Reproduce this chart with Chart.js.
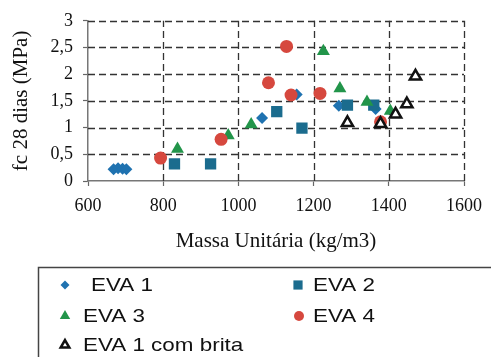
<!DOCTYPE html>
<html>
<head>
<meta charset="utf-8">
<script src="https://cdn.jsdelivr.net/npm/chart.js@4.4.0/dist/chart.umd.min.js"></script>
<style>
  html, body { margin: 0; padding: 0; background: #fff; }
  #wrap { width: 491px; height: 357px; position: relative; }
</style>
</head>
<body>
<div id="wrap"><canvas id="chart"></canvas></div>
<script>
// Massa unitária (kg/m3) x resistência à compressão aos 28 dias (MPa)
const xTicks = [600, 800, 1000, 1200, 1400, 1600];
const yTicks = [0, 0.5, 1, 1.5, 2, 2.5, 3];

const seriesNames = ['EVA 1', 'EVA 2', 'EVA 3', 'EVA 4', 'EVA 1 com brita'];

const eva1X = [668, 680, 692, 702, 1063, 1155, 1267, 1365];
const eva1Y = [0.22, 0.24, 0.23, 0.22, 1.18, 1.62, 1.41, 1.35];

const eva2X = [830, 926, 1102, 1169, 1290, 1360];
const eva2Y = [0.32, 0.32, 1.30, 0.99, 1.42, 1.42];

const eva3X = [838, 973, 1034, 1226, 1270, 1342, 1404];
const eva3Y = [0.60, 0.85, 1.06, 2.43, 1.73, 1.48, 1.31];

const eva4X = [793, 954, 1080, 1128, 1140, 1217, 1378];
const eva4Y = [0.43, 0.78, 1.84, 2.52, 1.61, 1.64, 1.11];

const britaX = [1290, 1378, 1418, 1448, 1471];
const britaY = [1.09, 1.07, 1.25, 1.44, 1.96];

const pairs = (xs, ys) => xs.map((x, i) => ({ x: x, y: ys[i] }));

const serif = '"Liberation Serif", "Times New Roman", serif';

// marker look per series (legend uses smaller radius)
const styles = [
  { pointStyle: 'rectRot',  bg: '#1f72b0', border: '#1f72b0', radius: 6,   legendR: 4.5, bw: 0 },
  { pointStyle: 'rect',     bg: '#1b6c8e', border: '#1b6c8e', radius: 8,   legendR: 6.5, bw: 0 },
  { pointStyle: 'triangle', bg: '#22954a', border: '#22954a', radius: 7.5, legendR: 6,   bw: 0 },
  { pointStyle: 'circle',   bg: '#d6483e', border: '#d6483e', radius: 6.5, legendR: 5,   bw: 0 },
  { pointStyle: 'triangle', bg: '#ffffff', border: '#111111', radius: 6.5, legendR: 5,   bw: 2.5 }
];

const seriesData = [
  pairs(eva1X, eva1Y),
  pairs(eva2X, eva2Y),
  pairs(eva3X, eva3Y),
  pairs(eva4X, eva4Y),
  pairs(britaX, britaY)
];

const datasets = seriesData.map((data, i) => ({
  label: seriesNames[i],
  data: data,
  order: seriesNames.length - i,
  pointStyle: styles[i].pointStyle,
  pointRadius: styles[i].radius,
  pointHoverRadius: styles[i].radius,
  pointBackgroundColor: styles[i].bg,
  pointBorderColor: styles[i].border,
  pointBorderWidth: styles[i].bw,
  showLine: false
}));

// dashed grid lines, drawn from the scales' own tick pixels
const dashedGrid = {
  id: 'dashedGrid',
  beforeDatasetsDraw(chart) {
    const { ctx, chartArea: a, scales } = chart;
    ctx.save();
    ctx.strokeStyle = '#333';
    ctx.lineWidth = 1.3;
    ctx.setLineDash([7, 4]);
    scales.x.ticks.forEach((t, i) => {
      if (i === 0) return;
      const px = Math.round(scales.x.getPixelForValue(t.value)) + 0.5;
      ctx.beginPath();
      ctx.moveTo(px, a.bottom);
      ctx.lineTo(px, a.top);
      ctx.stroke();
    });
    scales.y.ticks.forEach((t, i) => {
      if (i === 0) return;
      const py = Math.round(scales.y.getPixelForValue(t.value)) + 0.5;
      ctx.beginPath();
      ctx.moveTo(a.left, py);
      ctx.lineTo(a.right, py);
      ctx.stroke();
    });
    ctx.restore();
  }
};

// boxed legend in two columns under the plot
const legendSlots = [
  { mx: 65,  tx: 91,  y: 285 },
  { mx: 298, tx: 313, y: 285 },
  { mx: 65,  tx: 83,  y: 316 },
  { mx: 299, tx: 313, y: 316 },
  { mx: 65,  tx: 83,  y: 345 }
];

const boxLegend = {
  id: 'boxLegend',
  afterDraw(chart) {
    const ctx = chart.ctx;
    ctx.save();
    ctx.strokeStyle = '#444';
    ctx.lineWidth = 1.5;
    ctx.strokeRect(38.5, 267.5, 500, 120);

    chart.data.datasets.forEach((ds, i) => {
      const slot = legendSlots[i];
      const st = styles[i];
      ctx.fillStyle = st.bg;
      ctx.strokeStyle = st.border;
      ctx.lineWidth = st.bw;
      Chart.helpers.drawPoint(ctx, {
        pointStyle: st.pointStyle,
        radius: st.legendR,
        rotation: 0,
        borderWidth: st.bw
      }, slot.mx, slot.y);

      ctx.fillStyle = '#111';
      ctx.font = '19px "Liberation Sans", Arial, sans-serif';
      ctx.textBaseline = 'middle';
      ctx.textAlign = 'left';
      ctx.save();
      ctx.translate(slot.tx, slot.y + 1);
      ctx.scale(1.18, 1);
      ctx.fillText(ds.label, 0, 0);
      ctx.restore();
    });
    ctx.restore();
  }
};

// only the short tick marks come from the built-in grid
const gridStyle = {
  drawOnChartArea: false,
  drawTicks: true,
  tickLength: 5,
  tickColor: '#666',
  tickWidth: 1.2
};
const borderStyle = { display: true, color: '#777', width: 1.5 };

new Chart(document.getElementById('chart'), {
  type: 'scatter',
  data: { datasets: datasets },
  plugins: [dashedGrid, boxLegend],
  options: {
    responsive: true,
    maintainAspectRatio: false,
    animation: false,
    layout: { padding: { left: 0, top: 19, right: 25, bottom: 101 } },
    plugins: {
      legend: { display: false },
      tooltip: { enabled: false }
    },
    scales: {
      x: {
        type: 'linear',
        min: xTicks[0],
        max: xTicks[xTicks.length - 1],
        afterBuildTicks: (scale) => { scale.ticks = xTicks.map(v => ({ value: v })); },
        afterFit: (scale) => { scale.height = 75; },
        grid: gridStyle,
        border: borderStyle,
        ticks: {
          color: '#111',
          padding: 9,
          maxRotation: 0,
          font: { family: serif, size: 18 },
          callback: (v) => String(v)
        },
        title: {
          display: true,
          text: 'Massa Unitária (kg/m3)',
          color: '#111',
          padding: { top: 0, bottom: 2 },
          font: { family: serif, size: 21 }
        }
      },
      y: {
        type: 'linear',
        min: yTicks[0],
        max: yTicks[yTicks.length - 1],
        afterBuildTicks: (scale) => { scale.ticks = yTicks.map(v => ({ value: v })); },
        afterFit: (scale) => { scale.width = 88; },
        grid: gridStyle,
        border: borderStyle,
        ticks: {
          color: '#111',
          padding: 10,
          font: { family: serif, size: 18 },
          callback: (v) => String(v).replace('.', ',')
        },
        title: {
          display: true,
          text: 'fc 28 dias (MPa)',
          color: '#111',
          padding: { top: 9, bottom: 0 },
          font: { family: serif, size: 21 }
        }
      }
    }
  }
});
</script>
</body>
</html>
